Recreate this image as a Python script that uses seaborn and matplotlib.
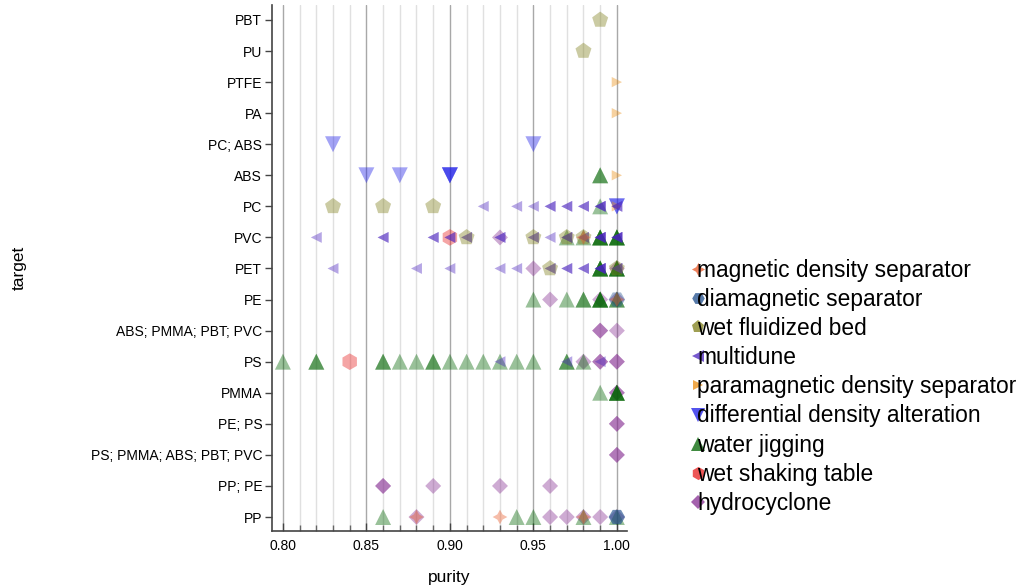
import matplotlib
matplotlib.use("Agg")
import matplotlib.pyplot as plt
from matplotlib.lines import Line2D
from matplotlib.ticker import MultipleLocator, FormatStrFormatter
import pandas as pd
import seaborn as sns

# ---- categories -------------------------------------------------------------
target_order = [
    "PP", "PP; PE", "PS; PMMA; ABS; PBT; PVC", "PE; PS", "PMMA", "PS",
    "ABS; PMMA; PBT; PVC", "PE", "PET", "PVC", "PC", "ABS", "PC; ABS",
    "PA", "PTFE", "PU", "PBT",
]

method_order = [
    "magnetic density separator", "diamagnetic separator", "wet fluidized bed",
    "multidune", "paramagnetic density separator", "differential density alteration",
    "water jigging", "wet shaking table", "hydrocyclone",
]

# ---- observations per separation method (target, purity) --------------------
hydrocyclone_target = (["PVC"] + ["PET"] * 2 + ["PE"] * 3 + ["ABS; PMMA; PBT; PVC"] * 3
                       + ["PS"] * 5 + ["PMMA"] * 2 + ["PE; PS"] * 2
                       + ["PS; PMMA; ABS; PBT; PVC"] * 2 + ["PP; PE"] * 5 + ["PP"] * 6)
hydrocyclone_purity = [0.93,
                       0.95, 1.00,
                       0.96, 0.99, 1.00,
                       0.99, 0.99, 1.00,
                       0.98, 0.99, 0.99, 1.00, 1.00,
                       1.00, 1.00,
                       1.00, 1.00,
                       1.00, 1.00,
                       0.86, 0.86, 0.89, 0.93, 0.96,
                       0.88, 0.96, 0.97, 0.98, 0.99, 1.00]

shaking_table_target = ["PVC", "PS"]
shaking_table_purity = [0.90, 0.84]

jigging_target = (["ABS"] * 2 + ["PC"] + ["PVC"] * 10 + ["PET"] * 8 + ["PE"] * 10
                  + ["PS"] * 18 + ["PMMA"] * 5 + ["PP"] * 5)
jigging_purity = [0.99, 0.99,
                  0.99,
                  0.97, 0.98, 0.99, 0.99, 0.99, 0.99, 1.00, 1.00, 1.00, 1.00,
                  0.99, 0.99, 0.99, 0.99, 1.00, 1.00, 1.00, 1.00,
                  0.95, 0.97, 0.98, 0.98, 0.99, 0.99, 0.99, 0.99, 1.00, 1.00,
                  0.80, 0.82, 0.82, 0.86, 0.86, 0.87, 0.88, 0.89, 0.89, 0.90,
                  0.91, 0.92, 0.93, 0.94, 0.95, 0.97, 0.97, 0.98,
                  0.99, 1.00, 1.00, 1.00, 1.00,
                  0.86, 0.94, 0.95, 0.98, 1.00]

density_alteration_target = ["PC; ABS"] * 2 + ["ABS"] * 5 + ["PC"] * 2
density_alteration_purity = [0.83, 0.95, 0.85, 0.87, 0.90, 0.90, 0.90, 1.00, 1.00]

paramagnetic_target = ["PTFE", "PA", "ABS", "PC"]
paramagnetic_purity = [1.00, 1.00, 1.00, 1.00]

multidune_target = ["PC"] * 14 + ["PVC"] * 27 + ["PET"] * 18 + ["PS"] * 3
multidune_purity = [0.92, 0.94, 0.95, 0.96, 0.96, 0.97, 0.97, 0.98, 0.98,
                    0.99, 0.99, 0.99, 1.00, 1.00,
                    0.82, 0.86, 0.86, 0.89, 0.89, 0.90, 0.90, 0.91, 0.91,
                    0.93, 0.93, 0.95, 0.95, 0.96, 0.97, 0.97, 0.97, 0.98, 0.98,
                    0.99, 0.99, 0.99, 0.99, 1.00, 1.00, 1.00, 1.00,
                    0.83, 0.88, 0.90, 0.93, 0.94, 0.96, 0.96, 0.97, 0.97,
                    0.98, 0.98, 0.99, 0.99, 0.99, 0.99, 1.00, 1.00, 1.00,
                    0.93, 0.97, 0.99]

fluidized_bed_target = ["PBT", "PU"] + ["PC"] * 3 + ["PVC"] * 4 + ["PET"] * 2
fluidized_bed_purity = [0.99, 0.98, 0.83, 0.86, 0.89, 0.91, 0.95, 0.97, 0.98, 0.96, 1.00]

diamagnetic_target = ["PP", "PP", "PE"]
diamagnetic_purity = [1.00, 1.00, 1.00]

magnetic_target = ["PP", "PP", "PP", "PVC", "PE"]
magnetic_purity = [0.88, 0.93, 0.98, 0.98, 1.00]

# drawing order: later methods end up on top
series = [
    ("hydrocyclone", hydrocyclone_target, hydrocyclone_purity),
    ("wet shaking table", shaking_table_target, shaking_table_purity),
    ("water jigging", jigging_target, jigging_purity),
    ("differential density alteration", density_alteration_target, density_alteration_purity),
    ("paramagnetic density separator", paramagnetic_target, paramagnetic_purity),
    ("multidune", multidune_target, multidune_purity),
    ("wet fluidized bed", fluidized_bed_target, fluidized_bed_purity),
    ("diamagnetic separator", diamagnetic_target, diamagnetic_purity),
    ("magnetic density separator", magnetic_target, magnetic_purity),
]

frames = [pd.DataFrame({"target": t, "purity": p, "method": m}) for m, t, p in series]
df = pd.concat(frames, ignore_index=True)
df["target"] = pd.Categorical(df["target"], categories=target_order, ordered=True)

# ---- styling ----------------------------------------------------------------
palette = {
    "magnetic density separator": "#ea5a28",
    "diamagnetic separator": "#1f4e8c",
    "wet fluidized bed": "#7f7f1a",
    "multidune": "#4a22bf",
    "paramagnetic density separator": "#ea8c10",
    "differential density alteration": "#1a1ae8",
    "water jigging": "#006400",
    "wet shaking table": "#e81e1e",
    "hydrocyclone": "#862e92",
}
markers = {
    "magnetic density separator": (4, 1, 0),
    "diamagnetic separator": "H",
    "wet fluidized bed": "p",
    "multidune": "<",
    "paramagnetic density separator": ">",
    "differential density alteration": "v",
    "water jigging": "^",
    "wet shaking table": "h",
    "hydrocyclone": "D",
}
sizes = {
    "magnetic density separator": 112,
    "diamagnetic separator": 140,
    "wet fluidized bed": 146,
    "multidune": 62,
    "paramagnetic density separator": 55,
    "differential density alteration": 132,
    "water jigging": 132,
    "wet shaking table": 144,
    "hydrocyclone": 66,
}
legend_marker_pt = {
    "magnetic density separator": 9.5,
    "diamagnetic separator": 9.0,
    "wet fluidized bed": 9.5,
    "multidune": 8.0,
    "paramagnetic density separator": 7.0,
    "differential density alteration": 9.5,
    "water jigging": 9.5,
    "wet shaking table": 9.5,
    "hydrocyclone": 7.0,
}

sns.set_theme(style="white")
plt.rcParams["font.family"] = ["Liberation Sans", "DejaVu Sans"]
plt.rcParams["text.color"] = "black"
plt.rcParams["axes.labelcolor"] = "black"

fig = plt.figure(figsize=(10.26, 5.87), dpi=100)
ax = fig.add_axes([0.265, 0.0954, 0.346, 0.896])

sns.scatterplot(
    data=df, x="purity", y="target",
    hue="method", style="method", size="method",
    hue_order=method_order, style_order=method_order, size_order=method_order,
    palette=palette, markers=markers, sizes=sizes,
    alpha=0.4, linewidth=0, legend=False, ax=ax,
)

ax.set_xlim(0.7934, 1.006)
ax.set_ylim(-0.45, 16.48)

ax.xaxis.set_major_locator(MultipleLocator(0.05))
ax.xaxis.set_minor_locator(MultipleLocator(0.01))
ax.xaxis.set_major_formatter(FormatStrFormatter("%.2f"))
ax.grid(which="major", axis="x", color="#a8a8a8", linewidth=1.0)
ax.grid(which="minor", axis="x", color="#e0e0e0", linewidth=1.0)
ax.grid(which="both", axis="y", visible=False)
ax.set_axisbelow(True)

ax.tick_params(axis="x", which="major", direction="in", length=6, width=1,
               color="#444444", labelcolor="black", labelsize=10, pad=6, bottom=True)
ax.tick_params(axis="x", which="minor", direction="in", length=4, width=1,
               color="#666666", bottom=True)
ax.tick_params(axis="y", which="major", direction="out", length=5, width=1,
               color="#444444", labelcolor="black", labelsize=10, pad=2, left=True)

for side in ("top", "right"):
    ax.spines[side].set_visible(False)
for side in ("left", "bottom"):
    ax.spines[side].set_color("#444444")
    ax.spines[side].set_linewidth(1.2)

ax.set_xlabel("purity", fontsize=12.5, labelpad=12)
ax.set_ylabel("target", fontsize=12.5)
ax.yaxis.set_label_coords(-0.69, 0.5)

handles = [
    Line2D([], [], linestyle="", marker=markers[m], color=palette[m],
           markeredgewidth=0, markersize=legend_marker_pt[m], alpha=0.75)
    for m in method_order
]
fig.legend(handles, method_order, loc="center left", bbox_to_anchor=(0.673, 0.341),
           frameon=False, fontsize=16.4, handlelength=0.7, handletextpad=-0.4,
           labelspacing=0.27, borderpad=0, borderaxespad=0)

fig.savefig("out.png", dpi=100)
